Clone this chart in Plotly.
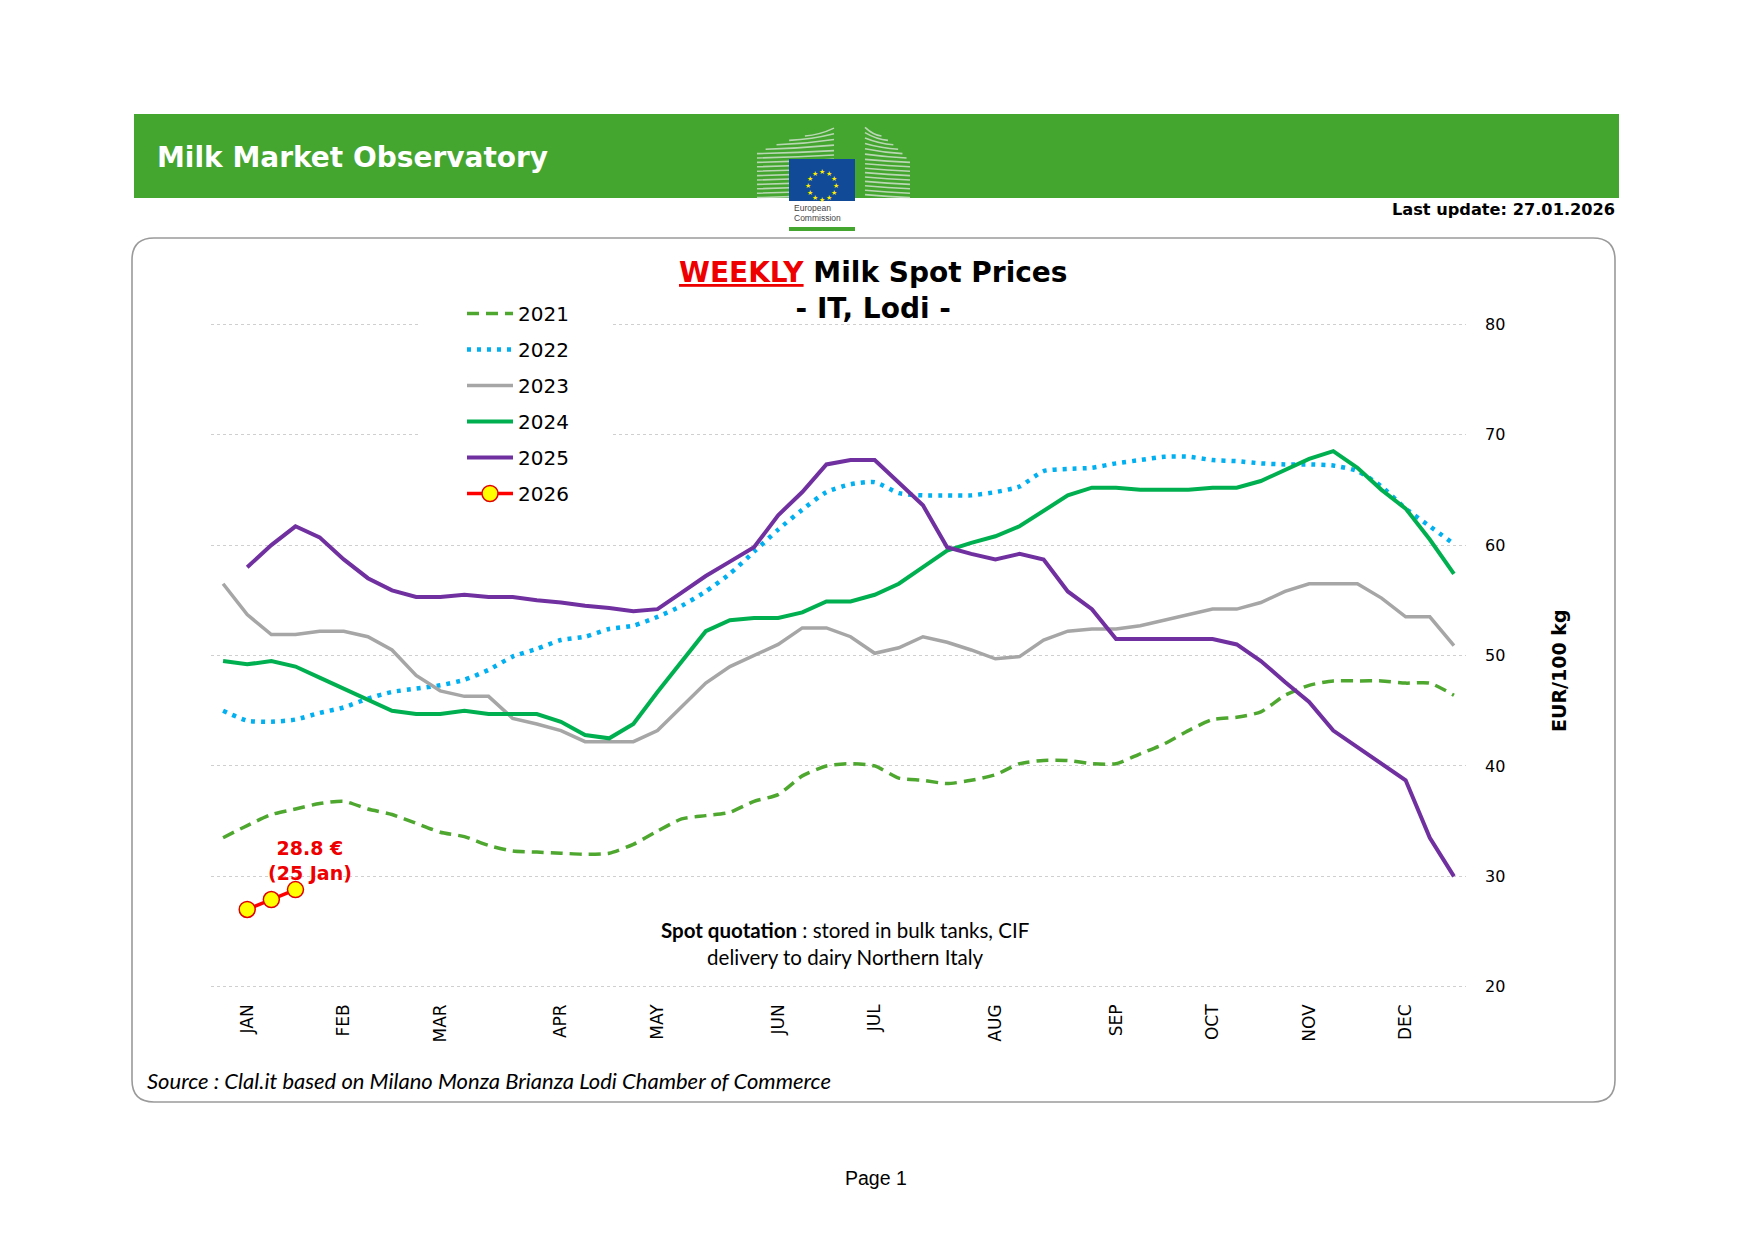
import math
import plotly.graph_objects as go

# ---------------- data ----------------
weeks = list(range(1, 53))
month_weeks = [2, 6, 10, 15, 19, 24, 28, 33, 38, 42, 46, 50]
month_labels = ["JAN", "FEB", "MAR", "APR", "MAY", "JUN", "JUL", "AUG", "SEP", "OCT", "NOV", "DEC"]

y2021 = [33.5, 34.6, 35.6, 36.1, 36.6, 36.8, 36.1, 35.6, 34.8, 34.0, 33.6, 32.8, 32.3, 32.2, 32.1, 32.0,
         32.1, 32.9, 34.1, 35.2, 35.5, 35.8, 36.8, 37.4, 39.1, 40.0, 40.2, 40.0, 38.9, 38.7, 38.4, 38.7,
         39.2, 40.2, 40.5, 40.5, 40.2, 40.2, 41.1, 42.0, 43.2, 44.2, 44.4, 44.9, 46.4, 47.3, 47.7, 47.7,
         47.7, 47.5, 47.5, 46.4]
y2022 = [45.0, 44.1, 44.0, 44.2, 44.8, 45.3, 46.1, 46.7, 47.0, 47.3, 47.8, 48.7, 49.9, 50.6, 51.4, 51.7,
         52.4, 52.7, 53.5, 54.5, 55.8, 57.4, 59.4, 61.4, 63.2, 64.8, 65.5, 65.7, 64.7, 64.5, 64.5, 64.5,
         64.8, 65.3, 66.7, 66.9, 67.0, 67.4, 67.7, 68.0, 68.0, 67.7, 67.6, 67.4, 67.3, 67.3, 67.2, 66.7,
         65.3, 63.3, 61.7, 60.1]
y2023 = [56.5, 53.7, 51.9, 51.9, 52.2, 52.2, 51.7, 50.5, 48.2, 46.8, 46.3, 46.3, 44.3, 43.8, 43.2, 42.2,
         42.2, 42.2, 43.2, 45.4, 47.5, 49.0, 50.0, 51.0, 52.5, 52.5, 51.7, 50.2, 50.7, 51.7, 51.2, 50.5,
         49.7, 49.9, 51.4, 52.2, 52.4, 52.4, 52.7, 53.2, 53.7, 54.2, 54.2, 54.8, 55.8, 56.5, 56.5, 56.5,
         55.2, 53.5, 53.5, 50.9]
y2024 = [49.5, 49.2, 49.5, 49.0, 48.0, 47.0, 46.0, 45.0, 44.7, 44.7, 45.0, 44.7, 44.7, 44.7, 44.0, 42.8,
         42.5, 43.8, 46.7, 49.5, 52.2, 53.2, 53.4, 53.4, 53.9, 54.9, 54.9, 55.5, 56.5, 58.0, 59.5, 60.2,
         60.8, 61.7, 63.1, 64.5, 65.2, 65.2, 65.0, 65.0, 65.0, 65.2, 65.2, 65.8, 66.8, 67.8, 68.5, 67.0,
         65.0, 63.3, 60.5, 57.4]
y2025 = [None, 58.0, 60.0, 61.7, 60.7, 58.7, 57.0, 55.9, 55.3, 55.3, 55.5, 55.3, 55.3, 55.0, 54.8, 54.5,
         54.3, 54.0, 54.2, 55.7, 57.2, 58.5, 59.8, 62.7, 64.8, 67.3, 67.7, 67.7, 65.6, 63.6, 59.8, 59.2,
         58.7, 59.2, 58.7, 55.8, 54.2, 51.5, 51.5, 51.5, 51.5, 51.5, 51.0, 49.5, 47.6, 45.8, 43.2, 41.7,
         40.2, 38.7, 33.5, 30.0]
weeks2026 = [2, 3, 4]
y2026 = [27.0, 27.9, 28.8]
last_label_2026 = "25 Jan"
y_ticks = [20, 30, 40, 50, 60, 70, 80]

# ---------------- geometry helpers (page pixels -> paper) ----------------
W, H = 1754, 1240
L, R, T, B = 211, 1466, 322, 989


def px(x):
    return (x - L) / (R - L)


def py(y):
    return (B - y) / (B - T)


FONT = "DejaVu Sans"

fig = go.Figure()

fig.add_trace(go.Scatter(x=weeks, y=y2021, name="2021", mode="lines", legendgroup="a",
                         line=dict(color="#4ea72e", width=3.5, dash="12px,7px", shape="spline", smoothing=0.6)))
fig.add_trace(go.Scatter(x=weeks, y=y2022, name="2022", mode="lines", legendgroup="b",
                         line=dict(color="#00b0f0", width=4.5, dash="4px,6px", shape="spline", smoothing=0.6)))
fig.add_trace(go.Scatter(x=weeks, y=y2023, name="2023", mode="lines", legendgroup="c",
                         line=dict(color="#a6a6a6", width=3.5)))
fig.add_trace(go.Scatter(x=weeks, y=y2024, name="2024", mode="lines", legendgroup="d",
                         line=dict(color="#00b050", width=4)))
fig.add_trace(go.Scatter(x=weeks, y=y2025, name="2025", mode="lines", legendgroup="e",
                         line=dict(color="#7030a0", width=4)))
fig.add_trace(go.Scatter(x=weeks2026, y=y2026, name="2026", mode="lines+markers", legendgroup="f",
                         line=dict(color="#ff0000", width=3.5),
                         marker=dict(size=16, color="#ffff00", line=dict(color="#e00000", width=1.5))))

shapes = []
annotations = []

# header banner
shapes.append(dict(type="rect", xref="paper", yref="paper", x0=px(134), x1=px(1619), y0=py(198), y1=py(114),
                   fillcolor="#44a52f", line=dict(width=0), layer="above"))
# chart frame (rounded)
x0, x1, y0, y1, r = 132, 1615, 238, 1102, 22
path = (f"M {px(x0 + r)},{py(y0)} L {px(x1 - r)},{py(y0)} Q {px(x1)},{py(y0)} {px(x1)},{py(y0 + r)} "
        f"L {px(x1)},{py(y1 - r)} Q {px(x1)},{py(y1)} {px(x1 - r)},{py(y1)} "
        f"L {px(x0 + r)},{py(y1)} Q {px(x0)},{py(y1)} {px(x0)},{py(y1 - r)} "
        f"L {px(x0)},{py(y0 + r)} Q {px(x0)},{py(y0)} {px(x0 + r)},{py(y0)} Z")
shapes.append(dict(type="path", xref="paper", yref="paper", path=path, line=dict(color="#9a9a9a", width=1.6),
                   fillcolor="rgba(0,0,0,0)", layer="below"))
# white legend area (hides gridlines behind the legend box)
shapes.append(dict(type="rect", xref="paper", yref="paper", x0=px(420), x1=px(610), y0=py(515), y1=py(296),
                   fillcolor="white", line=dict(width=0), layer="above"))

# EU logo: building stripes (slightly curved)
yy = 136.0
stripe = "rgba(225,232,225,0.75)"
while yy <= 201:
    t = min(1.0, max(0.0, (yy - 132) / 21))
    xl = 833 - 76 * t ** 0.6
    rise = 6 * (1 - t) + 3
    shapes.append(dict(type="path", xref="paper", yref="paper",
                       path=f"M {px(xl)},{py(yy)} Q {px((xl + 834) / 2)},{py(yy - 1)} {px(834)},{py(yy - rise)}",
                       line=dict(color=stripe, width=1.6), layer="above"))
    t2 = min(1.0, max(0.0, (yy - 130) / 32))
    xr = 865 + 45 * t2 ** 0.6
    rise2 = 7 * (1 - t2) + 3
    shapes.append(dict(type="path", xref="paper", yref="paper",
                       path=f"M {px(865)},{py(yy - rise2)} Q {px((xr + 865) / 2)},{py(yy - 1)} {px(xr)},{py(yy)}",
                       line=dict(color=stripe, width=1.6), layer="above"))
    yy += 4.4
shapes.append(dict(type="rect", xref="paper", yref="paper", x0=px(789), x1=px(855), y0=py(201), y1=py(159),
                   fillcolor="#114a96", line=dict(width=0), layer="above"))
shapes.append(dict(type="rect", xref="paper", yref="paper", x0=px(789), x1=px(855), y0=py(231), y1=py(227),
                   fillcolor="#44a52f", line=dict(width=0), layer="above"))
for k in range(12):
    a = 2 * math.pi * k / 12
    annotations.append(dict(xref="paper", yref="paper", x=px(822 + 14 * math.sin(a)), y=py(180 - 14 * math.cos(a)),
                            text="★", showarrow=False, font=dict(size=7, color="#ffed00", family=FONT)))
annotations.append(dict(xref="paper", yref="paper", x=px(792), y=py(208), xanchor="left", yanchor="middle",
                        text="European", showarrow=False,
                        font=dict(size=8.5, color="#444444", family="Liberation Sans Narrow, Liberation Sans")))
annotations.append(dict(xref="paper", yref="paper", x=px(792), y=py(218), xanchor="left", yanchor="middle",
                        text="Commission", showarrow=False,
                        font=dict(size=8.5, color="#444444", family="Liberation Sans Narrow, Liberation Sans")))

# header texts
annotations.append(dict(xref="paper", yref="paper", x=px(155), y=py(157), xanchor="left", yanchor="middle",
                        text="<b>Milk Market Observatory</b>", showarrow=False,
                        font=dict(size=28, color="white", family=FONT)))
annotations.append(dict(xref="paper", yref="paper", x=px(1617), y=py(209), xanchor="right", yanchor="middle",
                        text="<b>Last update: 27.01.2026</b>", showarrow=False,
                        font=dict(size=16.2, color="black", family=FONT)))
# chart title
annotations.append(dict(xref="paper", yref="paper", x=px(873), y=py(290), xanchor="center", yanchor="middle",
                        text="<b><span style='color:#ee0000'><u>WEEKLY</u></span> Milk Spot Prices</b><br><b>- IT, Lodi -</b>",
                        showarrow=False, align="center", font=dict(size=28, color="black", family=FONT)))
# y axis title
annotations.append(dict(xref="paper", yref="paper", x=px(1559), y=py(670), xanchor="center", yanchor="middle",
                        text="<b>EUR/100 kg</b>", textangle=-90, showarrow=False,
                        font=dict(size=19, color="black", family=FONT)))
# 2026 label
annotations.append(dict(xref="x", yref="y", x=weeks2026[-1], y=y2026[-1], xanchor="center", yanchor="bottom",
                        xshift=15, yshift=4, text=f"<b>{y2026[-1]:.1f} €<br>({last_label_2026})</b>",
                        showarrow=False, align="center", font=dict(size=19, color="#ee0000", family=FONT)))
# notes
annotations.append(dict(xref="paper", yref="paper", x=px(845), y=py(943), xanchor="center", yanchor="middle",
                        text="<b>Spot quotation</b> : stored in bulk tanks, CIF<br>delivery to dairy Northern Italy",
                        showarrow=False, align="center", font=dict(size=20.5, color="black", family="Lato")))
annotations.append(dict(xref="paper", yref="paper", x=px(145), y=py(1080), xanchor="left", yanchor="middle",
                        text="<i>Source : Clal.it based on Milano Monza Brianza Lodi Chamber of Commerce</i>",
                        showarrow=False, font=dict(size=22, color="black", family="Lato")))
annotations.append(dict(xref="paper", yref="paper", x=px(876), y=py(1178), xanchor="center", yanchor="middle",
                        text="Page 1", showarrow=False, font=dict(size=19.5, color="black", family="Liberation Sans")))

fig.update_layout(
    width=W, height=H,
    margin=dict(l=L, r=W - R, t=T, b=H - B, pad=0),
    paper_bgcolor="white", plot_bgcolor="white",
    font=dict(family=FONT, color="black"),
    showlegend=True,
    legend=dict(x=px(462), y=py(294), xanchor="left", yanchor="top", bgcolor="white",
                font=dict(size=20, family=FONT, color="black"), tracegroupgap=7, traceorder="grouped",
                itemwidth=46),
    shapes=shapes,
    annotations=annotations,
    xaxis=dict(range=[0.5, 52.5], tickmode="array", tickvals=month_weeks, ticktext=month_labels,
               tickangle=-90, showgrid=False, zeroline=False, showline=False, ticks="",
               ticklabelstandoff=11, tickfont=dict(size=17, family=FONT, color="black")),
    yaxis=dict(range=[19.8, 80.2], tickmode="array", tickvals=y_ticks,
               side="right", showgrid=True, gridcolor="#cfcfcf", griddash="dot",
               gridwidth=1, zeroline=False, showline=False, ticks="", ticklabelstandoff=18,
               tickfont=dict(size=16, family=FONT, color="black")),
)

fig.write_html("out.html", config={"displayModeBar": False},
               post_script="document.body.style.margin='0';document.body.style.overflow='hidden';")
